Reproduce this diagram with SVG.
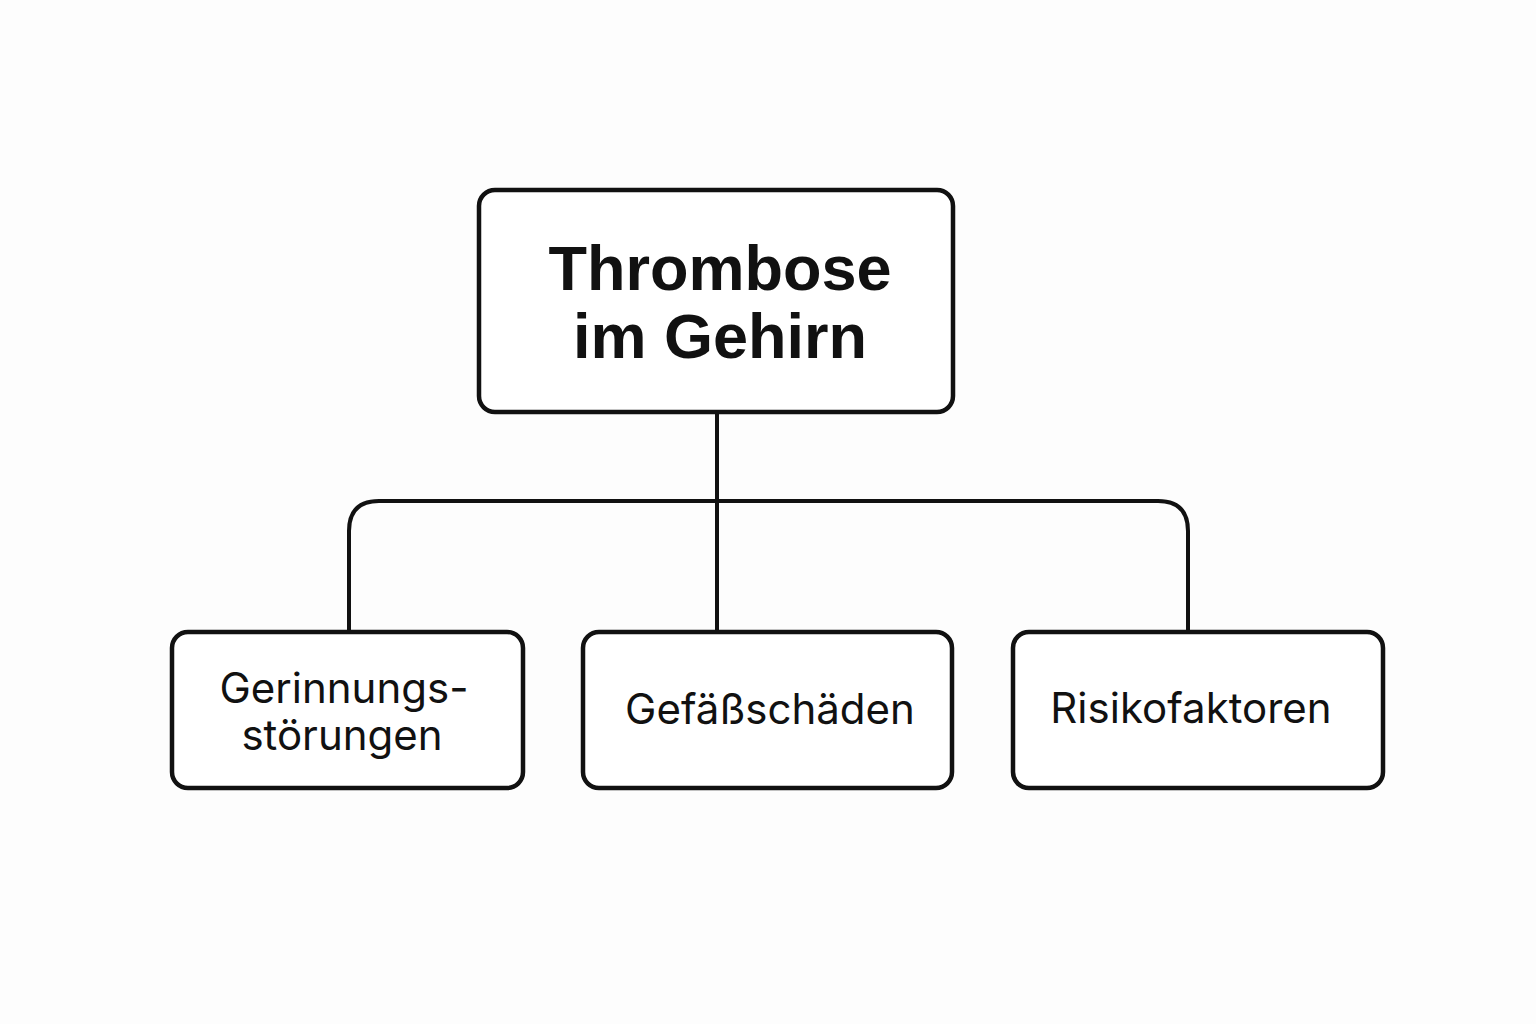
<svg xmlns="http://www.w3.org/2000/svg" width="1536" height="1024" viewBox="0 0 1536 1024">
<style>
.box{fill:#fff;stroke:#111;stroke-width:4.5}
.con{fill:none;stroke:#111;stroke-width:4}
.title{font-family:"Liberation Sans",Arial,sans-serif;font-weight:bold;font-size:63px;fill:#111;text-anchor:middle}
.lbl{font-family:Inter,"Noto Sans",sans-serif;font-size:42px;fill:#111;text-anchor:middle}
</style>
<rect width="1536" height="1024" fill="#fdfdfd"/>
<g id="connectors">
<path class="con" d="M717 412 V632"/>
<path class="con" d="M349 632 V531 Q349 501 379 501 H1158 Q1188 501 1188 531 V632"/>
</g>
<g id="root">
<rect class="box" x="479" y="190" width="474" height="222" rx="16"/>
<text class="title" x="720" y="290">Thrombose</text>
<text class="title" x="720" y="358">im Gehirn</text>
</g>
<g id="gerinnung">
<rect class="box" x="172" y="632" width="351" height="156" rx="16"/>
<text class="lbl" x="344" y="703">Gerinnungs-</text>
<text class="lbl" x="342" y="750">störungen</text>
</g>
<g id="gefaess">
<rect class="box" x="583" y="632" width="369" height="156" rx="16"/>
<text class="lbl" x="770" y="724">Gefäßschäden</text>
</g>
<g id="risiko">
<rect class="box" x="1013" y="632" width="370" height="156" rx="16"/>
<text class="lbl" x="1191" y="723">Risikofaktoren</text>
</g>
</svg>
